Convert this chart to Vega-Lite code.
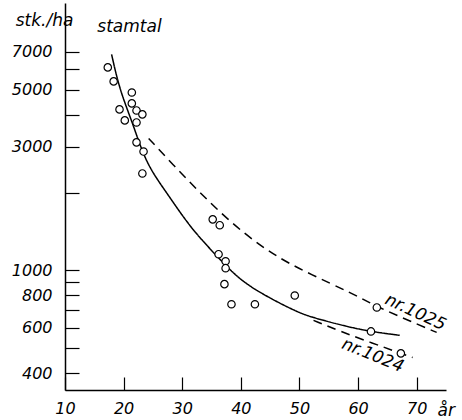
{
  "$schema": "https://vega.github.io/schema/vega-lite/v6.json",
  "width": 381,
  "height": 387,
  "autosize": {"type": "none"},
  "padding": {"left": 65, "top": 3, "right": 16, "bottom": 30},
  "background": "white",
  "config": {
    "view": {"stroke": null},
    "font": "DejaVu Sans",
    "axis": {"grid": false, "domainColor": "black", "tickColor": "black", "labelColor": "black", "titleColor": "black"}
  },
  "datasets": {
    "points": [
      {"age": 17.3, "stems": 6090}, {"age": 18.3, "stems": 5375}, {"age": 21.4, "stems": 4870},
      {"age": 21.4, "stems": 4420}, {"age": 19.3, "stems": 4190}, {"age": 22.2, "stems": 4150},
      {"age": 23.2, "stems": 4010}, {"age": 20.2, "stems": 3800}, {"age": 22.2, "stems": 3730},
      {"age": 22.2, "stems": 3125}, {"age": 23.4, "stems": 2880}, {"age": 23.2, "stems": 2370},
      {"age": 35.2, "stems": 1575}, {"age": 36.4, "stems": 1495}, {"age": 36.2, "stems": 1155},
      {"age": 37.4, "stems": 1085}, {"age": 37.4, "stems": 1020}, {"age": 37.2, "stems": 885},
      {"age": 38.4, "stems": 740}, {"age": 42.4, "stems": 740}, {"age": 49.2, "stems": 800},
      {"age": 63.2, "stems": 719}, {"age": 62.2, "stems": 581}, {"age": 67.3, "stems": 478}
    ],
    "curves": [
      {"series": "fit", "age": 17.95, "stems": 6835},
      {"series": "fit", "age": 19.3, "stems": 5005},
      {"series": "fit", "age": 21.5, "stems": 3730},
      {"series": "fit", "age": 23.2, "stems": 2858},
      {"series": "fit", "age": 24.9, "stems": 2392},
      {"series": "fit", "age": 27.3, "stems": 2001},
      {"series": "fit", "age": 30.1, "stems": 1617},
      {"series": "fit", "age": 32.6, "stems": 1365},
      {"series": "fit", "age": 36.9, "stems": 1074},
      {"series": "fit", "age": 39.8, "stems": 923},
      {"series": "fit", "age": 43.7, "stems": 808},
      {"series": "fit", "age": 49.7, "stems": 688},
      {"series": "fit", "age": 52.3, "stems": 658},
      {"series": "fit", "age": 55.3, "stems": 630},
      {"series": "fit", "age": 60.8, "stems": 586},
      {"series": "fit", "age": 67.1, "stems": 561},
      {"series": "nr.1025", "age": 24.27, "stems": 3236},
      {"series": "nr.1025", "age": 28.7, "stems": 2523},
      {"series": "nr.1025", "age": 32.97, "stems": 2002},
      {"series": "nr.1025", "age": 38.09, "stems": 1546},
      {"series": "nr.1025", "age": 43.21, "stems": 1249},
      {"series": "nr.1025", "age": 48.33, "stems": 1055},
      {"series": "nr.1025", "age": 55.32, "stems": 891},
      {"series": "nr.1025", "age": 60.96, "stems": 773},
      {"series": "nr.1025", "age": 63.17, "stems": 726},
      {"series": "nr.1025", "age": 68.98, "stems": 635},
      {"series": "nr.1025", "age": 73.41, "stems": 576},
      {"series": "nr.1024", "age": 52.4, "stems": 641},
      {"series": "nr.1024", "age": 57.0, "stems": 581},
      {"series": "nr.1024", "age": 62.1, "stems": 527},
      {"series": "nr.1024", "age": 67.3, "stems": 478},
      {"series": "nr.1024", "age": 69.3, "stems": 461}
    ],
    "labels": [
      {"label": "nr.1025", "age": 69.8, "stems": 688},
      {"label": "nr.1024", "age": 62.5, "stems": 469},
      {"label": "stamtal", "age": 21.0, "stems": 8312}
    ]
  },
  "encoding": {
    "x": {
      "field": "age", "type": "quantitative",
      "scale": {"domain": [10, 75], "nice": false, "zero": false},
      "axis": {
        "values": [10, 20, 30, 40, 50, 60, 70],
        "tickSize": -13, "tickWidth": 1.2, "domainWidth": 1.5,
        "labelFontSize": 16, "labelFontStyle": "italic", "labelPadding": 23,
        "labelFlush": false, "labelOverlap": false,
        "title": "år", "titleX": 372, "titleY": 25, "titleAlign": "left",
        "titleBaseline": "alphabetic", "titleFontSize": 17, "titleFontStyle": "italic",
        "titleFontWeight": "normal"
      }
    },
    "y": {
      "field": "stems", "type": "quantitative",
      "scale": {"type": "log", "domain": [345, 10800], "nice": false},
      "axis": {
        "values": [400, 500, 600, 700, 800, 900, 1000, 2000, 3000, 4000, 5000, 6000, 7000],
        "labelExpr": "indexof([400, 600, 800, 1000, 3000, 5000, 7000], datum.value) >= 0 ? '' + datum.value : ''",
        "tickSize": -14, "tickWidth": 1.2, "domainWidth": 1.5,
        "labelFontSize": 16, "labelFontStyle": "italic", "labelPadding": 27,
        "labelOverlap": false,
        "title": "stk./ha", "titleAngle": 0, "titleX": -21, "titleY": 22,
        "titleAlign": "center", "titleBaseline": "alphabetic", "titleFontSize": 17,
        "titleFontStyle": "italic", "titleFontWeight": "normal"
      }
    }
  },
  "layer": [
    {
      "data": {"name": "curves"},
      "mark": {"type": "line", "color": "black", "strokeWidth": 1.5, "interpolate": "basis"},
      "encoding": {
        "strokeDash": {
          "field": "series", "type": "nominal", "legend": null,
          "scale": {"domain": ["fit", "nr.1025", "nr.1024"], "range": [[1, 0], [9, 6], [9, 6]]}
        }
      }
    },
    {
      "data": {"name": "points"},
      "mark": {"type": "point", "shape": "circle", "filled": false, "size": 55, "stroke": "black", "strokeWidth": 1.2, "fill": "white", "fillOpacity": 1, "opacity": 1}
    },
    {
      "data": {"name": "labels"},
      "transform": [{"filter": "datum.label == 'nr.1025'"}],
      "mark": {"type": "text", "angle": 25, "fontSize": 17, "fontStyle": "italic", "color": "black", "align": "center", "baseline": "middle"},
      "encoding": {"text": {"field": "label"}}
    },
    {
      "data": {"name": "labels"},
      "transform": [{"filter": "datum.label == 'nr.1024'"}],
      "mark": {"type": "text", "angle": 22, "fontSize": 17, "fontStyle": "italic", "color": "black", "align": "center", "baseline": "middle"},
      "encoding": {"text": {"field": "label"}}
    },
    {
      "data": {"name": "labels"},
      "transform": [{"filter": "datum.label == 'stamtal'"}],
      "mark": {"type": "text", "fontSize": 17, "fontStyle": "italic", "color": "black", "align": "center", "baseline": "alphabetic"},
      "encoding": {"text": {"field": "label"}}
    }
  ]
}
